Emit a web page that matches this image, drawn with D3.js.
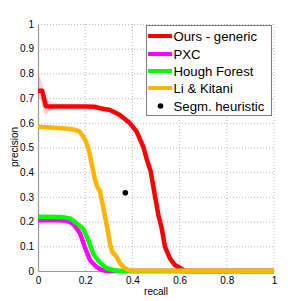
<!DOCTYPE html>
<html><head><meta charset="utf-8">
<script src="https://d3js.org/d3.v7.min.js"></script>
<style>body{margin:0;background:#fff}svg{display:block}text{font-family:"Liberation Sans",Arial,sans-serif}</style>
</head><body><svg id="c" width="299" height="301"></svg>
<script>
const xTicks = [0, 0.2, 0.4, 0.6, 0.8, 1];
const yTicks = [0, 0.1, 0.2, 0.3, 0.4, 0.5, 0.6, 0.7, 0.8, 0.9, 1];
const seriesNames = ["Ours - generic", "PXC", "Hough Forest", "Li & Kitani", "Segm. heuristic"];

const oursR = [0, 0.018, 0.033, 0.06, 0.1, 0.2, 0.24, 0.263, 0.305, 0.347, 0.39, 0.418, 0.446, 0.46, 0.477, 0.496, 0.51, 0.524, 0.538, 0.559, 0.58, 0.609, 0.625, 1];
const oursP = [0.73, 0.73, 0.667, 0.666, 0.666, 0.666, 0.665, 0.659, 0.652, 0.632, 0.598, 0.564, 0.503, 0.455, 0.405, 0.301, 0.227, 0.173, 0.098, 0.051, 0.024, 0.008, 0, 0];
const oursBandR = [0, 0.01, 0.02, 0.03, 0.045, 0.06, 0.1, 0.2, 0.263, 0.305, 0.347, 0.39, 0.418, 0.446, 0.477, 0.496, 0.51, 0.538, 0.559, 0.58, 0.609, 0.63];
const oursBandUp = [0.80, 0.78, 0.745, 0.71, 0.69, 0.682, 0.675, 0.672, 0.667, 0.661, 0.642, 0.608, 0.575, 0.515, 0.418, 0.315, 0.24, 0.11, 0.062, 0.033, 0.014, 0.002];
const oursBandLo = [0.70, 0.69, 0.66, 0.63, 0.645, 0.655, 0.66, 0.66, 0.651, 0.643, 0.622, 0.588, 0.553, 0.49, 0.39, 0.287, 0.214, 0.086, 0.04, 0.015, 0.002, 0];

const pxcR = [0, 0.1, 0.13, 0.15, 0.178, 0.199, 0.22, 0.234, 0.249, 0.263, 0.285, 1];
const pxcP = [0.205, 0.205, 0.2, 0.19, 0.153, 0.095, 0.045, 0.03, 0.015, 0.008, 0, 0];
const pxcBandR = [0, 0.01, 0.02, 0.04];
const pxcBandUp = [0.245, 0.225, 0.212, 0.208];
const pxcBandLo = [0.17, 0.185, 0.198, 0.202];

const houghR = [0, 0.1, 0.136, 0.164, 0.192, 0.213, 0.234, 0.249, 0.263, 0.277, 0.291, 0.319, 0.345, 1];
const houghP = [0.22, 0.219, 0.213, 0.193, 0.17, 0.125, 0.07, 0.05, 0.033, 0.022, 0.011, 0.004, 0, 0];

const liR = [0, 0.107, 0.15, 0.175, 0.192, 0.205, 0.215, 0.227, 0.242, 0.252, 0.262, 0.28, 0.295, 0.305, 0.315, 0.333, 0.347, 0.369, 0.39, 1];
const liP = [0.584, 0.578, 0.573, 0.565, 0.544, 0.52, 0.49, 0.436, 0.368, 0.338, 0.325, 0.24, 0.166, 0.11, 0.075, 0.058, 0.031, 0.011, 0.002, 0];

const segmR = [0.37];
const segmP = [0.317];

const svg = d3.select("#c");
const x = d3.scaleLinear().domain([0, 1]).range([38, 274]);
const y = d3.scaleLinear().domain([0, 1]).range([271, 24]);

// grid
const g = svg.append("g");
g.selectAll(".vg").data(xTicks.filter(d => d > 0)).join("line")
  .attr("x1", d => x(d)).attr("x2", d => x(d)).attr("y1", y(0)).attr("y2", y(1))
  .attr("stroke", "#b8b8b8").attr("stroke-width", 1).attr("stroke-dasharray", "1,2");
g.selectAll(".hg").data(yTicks.filter(d => d > 0)).join("line")
  .attr("x1", x(0)).attr("x2", x(1)).attr("y1", d => y(d) + 0.5).attr("y2", d => y(d) + 0.5)
  .attr("stroke", "#b8b8b8").attr("stroke-width", 1).attr("stroke-dasharray", "1,2");

// axes
const ax = d3.axisBottom(x).tickValues(xTicks).tickFormat(d3.format("")).tickSize(0).tickPadding(6);
const ay = d3.axisLeft(y).tickValues(yTicks).tickFormat(d3.format("")).tickSize(0).tickPadding(4);
const gx = svg.append("g").attr("transform", `translate(0,${y(0)})`).call(ax);
const gy = svg.append("g").attr("transform", `translate(${x(0)},0)`).call(ay);
[gx, gy].forEach(a => {
  a.select(".domain").attr("stroke", "#999").attr("stroke-width", 1.2);
  a.selectAll("text").attr("font-size", 10).attr("fill", "#000");
});

svg.append("text").attr("x", 156).attr("y", 295).attr("text-anchor", "middle").attr("font-size", 10).text("recall");
svg.append("text").attr("transform", "translate(17.5,147) rotate(-90)").attr("text-anchor", "middle").attr("font-size", 10).text("precision");

const line = d3.line().x(d => x(d[0])).y(d => y(d[1]));
const area = d3.area().x(d => x(d[0])).y0(d => y(d[2])).y1(d => y(d[1]));
const zip = (a, b) => a.map((v, i) => [v, b[i]]);
const zip3 = (a, b, c) => a.map((v, i) => [v, b[i], c[i]]);

svg.append("path").attr("d", area(zip3(oursBandR, oursBandUp, oursBandLo))).attr("fill", "rgba(255,0,0,0.18)");
svg.append("path").attr("d", area(zip3(pxcBandR, pxcBandUp, pxcBandLo))).attr("fill", "rgba(255,0,255,0.18)");

const series = [
  [oursR, oursP, "#ff0000"],
  [pxcR, pxcP, "#ff00ff"],
  [houghR, houghP, "#00ff00"],
  [liR, liP, "#ffb400"]
];
series.forEach(s => {
  svg.append("path").attr("d", line(zip(s[0], s[1]))).attr("fill", "none")
    .attr("stroke", s[2]).attr("stroke-width", 4.5).attr("stroke-linejoin", "round");
});
svg.selectAll(".seg").data(zip(segmR, segmP)).join("circle")
  .attr("cx", d => x(d[0])).attr("cy", d => y(d[1])).attr("r", 2.8).attr("fill", "#000");

// legend
const lg = svg.append("g");
lg.append("rect").attr("x", 146.5).attr("y", 25.5).attr("width", 125).attr("height", 90)
  .attr("fill", "#fff").attr("stroke", "#808080").attr("stroke-width", 1);
const lys = [36, 54, 71, 88, 106];
const cols = ["#ff0000", "#ff00ff", "#00ff00", "#ffb400", null];
seriesNames.forEach((n, i) => {
  if (cols[i]) lg.append("line").attr("x1", 148).attr("x2", 172).attr("y1", lys[i]).attr("y2", lys[i])
    .attr("stroke", cols[i]).attr("stroke-width", 4);
  else lg.append("circle").attr("cx", 160.5).attr("cy", lys[i]).attr("r", 2.8).attr("fill", "#000");
  lg.append("text").attr("x", 173.5).attr("y", lys[i] + 4.7).attr("font-size", 13.2).text(n);
});
</script></body></html>
